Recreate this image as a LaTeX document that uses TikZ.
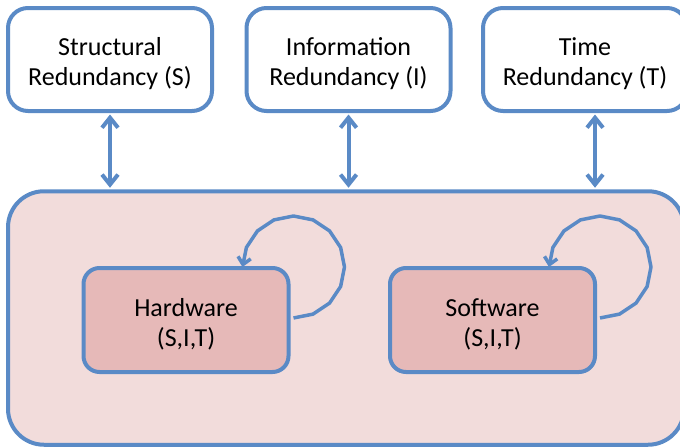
\documentclass[tikz,border=0pt]{standalone}
\usepackage{fontspec}
\setmainfont{Carlito}
\usetikzlibrary{arrows.meta}
\definecolor{edgeblue}{HTML}{5A8AC6}
\definecolor{outerfill}{HTML}{F2DCDB}
\definecolor{innerfill}{HTML}{E6B9B8}
\begin{document}
\begin{tikzpicture}[x=1pt,y=-1pt,
  boxtext/.style={align=center, inner sep=0pt, font=\fontsize{26}{30}\selectfont},
  caption/.style={label={[boxtext, yshift=-4.5pt]center:#1}},
  redbox/.style={draw=edgeblue, line width=4pt, fill=white, rounded corners=20pt,
    minimum width=204pt, minimum height=103pt, inner sep=0pt},
  partbox/.style={draw=edgeblue, line width=4pt, fill=innerfill, rounded corners=16pt,
    minimum width=205pt, minimum height=104pt, inner sep=0pt},
  sysbox/.style={draw=edgeblue, line width=4pt, fill=outerfill, rounded corners=36pt,
    minimum width=676pt, minimum height=253.5pt, inner sep=0pt},
  link/.style={draw=edgeblue, line width=4pt,
    {Straight Barb[length=10pt,width=16pt]}-{Straight Barb[length=10pt,width=16pt]},
    shorten <=1.5pt, shorten >=1.5pt},
  selfloop/.style={draw=edgeblue, line width=3.5pt, line join=round,
    -{Straight Barb[length=7pt,width=13pt]}}
]
\useasboundingbox (0,0) rectangle (680,447);

% redundancy kinds
\node[redbox, caption={Structural\\Redundancy (S)}] (s) at (110,59.5) {};
\node[redbox, caption={Information\\Redundancy (I)}] (i) at (348.5,59.5) {};
\node[redbox, caption={Time\\Redundancy (T)}] (t) at (585,59.5) {};

% the system and its parts
\node[sysbox] (sys) at (346,318) {};
\node[partbox, caption={Hardware\\(S,I,T)}] (hw) at (186,320) {};
\node[partbox, caption={Software\\(S,I,T)}] (sw) at (492.5,320) {};

% links between the kinds of redundancy and the system
\draw[link] (s.south) -- (s.south |- sys.north);
\draw[link] (i.south) -- (i.south |- sys.north);
\draw[link] ([xshift=10pt]t.south) -- ([xshift=10pt]t.south |- sys.north);

% each part applies redundancy to itself
\begin{scope}[shift={(hw.east)}]
  \draw[selfloop] plot[samples=13, domain=-90:180] ({3+51*cos(\x)}, {-53-51*sin(\x)});
\end{scope}
\begin{scope}[shift={(sw.east)}]
  \draw[selfloop] plot[samples=13, domain=-90:180] ({3+51*cos(\x)}, {-53-51*sin(\x)});
\end{scope}
\end{tikzpicture}
\end{document}
